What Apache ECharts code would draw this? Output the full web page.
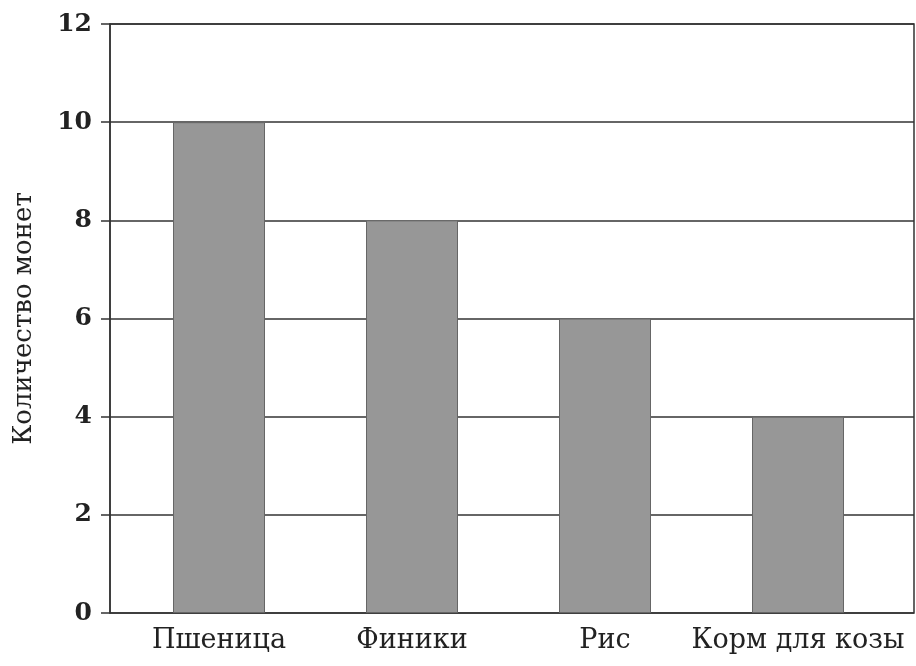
<!DOCTYPE html>
<html><head><meta charset="utf-8">
<script src="https://cdn.jsdelivr.net/npm/echarts@6/dist/echarts.min.js"></script>
<style>html,body{margin:0;padding:0;background:#fff}#c{width:916px;height:666px}</style>
</head><body><div id="c"></div>
<script>
const categories = ['Пшеница', 'Финики', 'Рис', 'Корм для козы'];
const coins = [10, 8, 6, 4];
const yTicks = [0, 2, 4, 6, 8, 10, 12];
const yName = 'Количество монет';

const chart = echarts.init(document.getElementById('c'), null, {renderer: 'canvas'});
const serif = '"DejaVu Serif", "Liberation Serif", serif';
chart.setOption({
  backgroundColor: '#fff',
  animation: false,
  grid: [
    {left: 110, right: 2, top: 24, bottom: 53, show: true, borderColor: '#333', borderWidth: 1.5},
    {left: 122.5, right: 21.5, top: 24, bottom: 53}
  ],
  xAxis: [
    {gridIndex: 0, type: 'value', min: 0, max: 1, show: false},
    {gridIndex: 1, type: 'category', data: categories,
     axisLine: {show: false}, axisTick: {show: false},
     axisLabel: {interval: 0, hideOverlap: false, margin: 14, color: '#222', fontFamily: serif, fontSize: 27}}
  ],
  yAxis: [
    {gridIndex: 0, type: 'value', min: yTicks[0], max: yTicks[yTicks.length - 1], interval: 2,
     name: yName, nameLocation: 'middle', nameGap: 73, nameRotate: 90,
     nameTextStyle: {fontFamily: serif, fontSize: 26, color: '#222'},
     axisLine: {show: true, lineStyle: {color: '#333', width: 1.5}},
     axisTick: {show: true, length: 9, lineStyle: {color: '#333', width: 1.5}},
     splitLine: {show: true, lineStyle: {color: '#333', width: 1.5}},
     axisLabel: {margin: 18, color: '#222', fontFamily: serif, fontSize: 25, fontWeight: 'bold'}},
    {gridIndex: 1, type: 'value', min: yTicks[0], max: yTicks[yTicks.length - 1], show: false}
  ],
  series: [{
    type: 'bar', xAxisIndex: 1, yAxisIndex: 1, data: coins, barWidth: 92,
    itemStyle: {color: '#979797', borderColor: '#666', borderWidth: 1}
  }]
});
</script></body></html>
